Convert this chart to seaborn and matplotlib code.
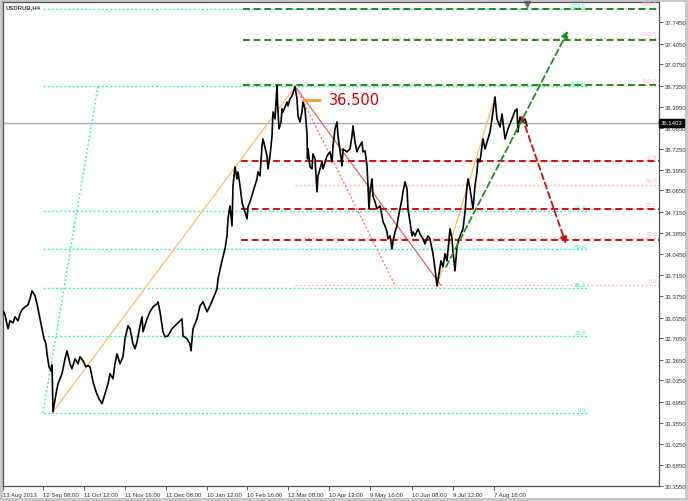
import numpy as np
import pandas as pd
import seaborn as sns
import matplotlib.pyplot as plt

# H4 USDRUB closes (bar position, price)
bar = [3, 5, 8, 10, 13, 15, 18, 20, 22, 25, 28, 30, 32, 35, 37, 40, 42, 44, 46, 47,
       49, 51, 52, 53, 56, 58, 62, 65, 67, 70, 72, 75, 78, 80, 83, 86, 88, 90, 93, 96,
       99, 102, 105, 108, 110, 113, 115, 117, 120, 123, 125, 128, 130, 133, 135, 137, 140, 142, 143, 147,
       150, 153, 157, 158, 160, 163, 165, 168, 172, 177, 180, 182, 183, 187, 190, 191, 193, 197, 200, 203,
       207, 210, 213, 217, 218, 222, 225, 227, 228, 230, 232, 233, 235, 237, 238, 240, 242, 243, 245, 247,
       248, 250, 253, 257, 258, 260, 262, 263, 267, 268, 270, 272, 273, 275, 277, 277.5, 279, 281, 282, 283,
       285, 287, 288, 290, 292, 295, 297, 298, 300, 302, 303, 305, 307, 307.5, 308, 310, 312, 313, 315, 317,
       318, 320, 322, 323, 327, 330, 332, 333, 335, 337, 338, 342, 343, 347, 350, 352, 353, 355, 357, 358,
       362, 363, 365, 367, 368, 369, 370, 372, 373, 375, 377, 380, 382, 383, 385, 387, 388, 390, 392, 393,
       395, 397, 398, 400, 402, 403, 405, 407, 408, 410, 412, 413, 415, 418, 420, 423, 425, 428, 430, 433,
       435, 437, 439, 441, 443, 445, 447, 449, 450, 452, 453, 455, 457, 460, 463, 465, 467, 468, 470, 472,
       473, 475, 477, 478, 480, 482, 483, 485, 487, 488, 490, 492, 495, 497, 500, 502, 505, 508, 510, 512,
       515, 517, 518, 520, 522, 525, 527]
close = [33.144, 33.08, 32.857, 32.984, 32.95, 33.048, 32.984, 33.096, 33.16, 33.207, 33.24, 33.335, 33.462, 33.383, 33.255, 33.016, 32.857, 32.697, 32.617, 32.458,
         32.251, 32.188, 32.28, 31.534, 31.821, 31.98, 32.14, 32.379, 32.506, 32.299, 32.219, 32.379, 32.299, 32.41, 32.347, 32.251, 32.27, 32.251, 32.012, 31.853,
         31.741, 31.662, 31.821, 31.98, 32.14, 32.06, 32.299, 32.458, 32.299, 32.41, 32.697, 32.904, 32.857, 32.617, 32.538, 32.649, 32.904, 33.048, 32.809, 33.016,
         33.128, 33.207, 33.255, 33.287, 33.128, 32.809, 32.729, 32.745, 32.857, 32.936, 32.984, 33.016, 32.745, 32.697, 32.617, 32.506, 32.857, 33.016, 33.223, 33.287,
         33.128, 33.223, 33.335, 33.494, 33.654, 33.94, 34.131, 34.339, 34.61, 34.817, 34.498, 35.136, 35.438, 35.247, 35.359, 35.136, 34.88, 34.817, 34.721, 34.61,
         34.8, 34.88, 35.04, 35.247, 35.359, 35.295, 35.773, 35.884, 35.614, 35.407, 35.614, 35.933, 36.315, 36.204, 36.73, 36.474, 36.044, 36.156, 36.363, 36.315,
         36.395, 36.474, 36.411, 36.522, 36.57, 36.714, 36.522, 36.251, 36.156, 36.315, 36.474, 36.363, 35.965, 35.566, 35.725, 35.438, 35.407, 35.646, 35.566, 35.04,
         35.295, 35.407, 35.518, 35.407, 35.614, 35.678, 35.518, 35.773, 36.044, 36.156, 35.933, 35.454, 35.725, 35.678, 35.725, 35.933, 36.092, 35.836, 35.678, 35.725,
         35.836, 35.678, 35.694, 35.454, 35.136, 34.769, 35.04, 35.247, 34.976, 34.88, 34.769, 34.817, 34.658, 34.562, 34.498, 34.402, 34.291, 34.339, 34.131, 34.243,
         34.402, 34.498, 34.61, 34.769, 34.929, 35.04, 35.199, 35.088, 34.769, 34.562, 34.339, 34.402, 34.339, 34.45, 34.371, 34.291, 34.211, 34.339, 34.291, 34.052,
         33.813, 33.542, 33.733, 33.94, 33.845, 34.052, 33.94, 34.291, 34.45, 34.291, 34.083, 33.781, 34.179, 34.339, 34.45, 34.721, 35.136, 35.247, 35.088, 34.88,
         34.769, 35.136, 35.359, 35.566, 35.518, 35.773, 35.884, 35.725, 35.836, 35.884, 35.996, 36.204, 36.554, 36.204, 36.076, 36.283, 35.884, 36.044, 36.124, 36.204,
         36.331, 36.363, 35.996, 36.235, 36.156, 36.204, 36.092]
last_price = 36.1403

# fibonacci retracements
cyan_lo, cyan_hi = 31.518, 36.73
cyan_levels = [0.0, 23.6, 38.2, 50.0, 61.8, 100.0, 123.6]
pink_lo, pink_hi = 33.55, 36.746
pink_levels = [0.0, 23.6, 38.2, 50.0, 61.8, 100.0, 123.6, 138.2]
green_lines = [36.74, 37.46, 37.96]
red_lines = [35.53, 34.77, 34.28]

y_ticks = [30.355, 30.685, 31.025, 31.355, 31.695, 32.035, 32.365, 32.705, 33.035, 33.375, 33.715, 34.045,
           34.385, 34.715, 35.065, 35.395, 35.725, 36.065, 36.395, 36.735, 37.075, 37.405, 37.745]
x_ticks = [3, 43, 84, 125, 166, 207, 247, 288, 329, 370, 412, 453, 494]
x_labels = ['13 Aug 2013', '12 Sep 08:00', '11 Oct 12:00', '11 Nov 16:00', '11 Dec 08:00', '10 Jan 12:00',
            '10 Feb 16:00', '12 Mar 08:00', '10 Apr 12:00', '9 May 16:00', '10 Jun 08:00', '9 Jul 12:00', '7 Aug 16:00']

sns.set_style('white')
plt.rcParams['font.family'] = ['Liberation Sans', 'DejaVu Sans']

fig = plt.figure(figsize=(6.88, 5.02), dpi=100)
fig.patch.set_facecolor('white')
fig.patch.set_edgecolor('#c8c8c8')
fig.patch.set_linewidth(3)
ax = fig.add_axes([3 / 688, 15 / 502, 656 / 688, 484 / 502])

CYAN = '#3ceec8'
PINK = '#ffb8c0'
GREEN = '#1a8f1a'
RED = '#cc1010'
ORANGE = '#ffb866'

# current price
ax.axhline(last_price, color='#a8aab8', lw=1, zorder=1)

# cyan fib
for lv in cyan_levels:
    p = cyan_lo + (cyan_hi - cyan_lo) * lv / 100
    ax.plot([43, 587], [p, p], color=CYAN, lw=1, ls=(0, (1.5, 1.5)), zorder=2)
    ax.text(586, p + 0.012, f'{lv:.1f}', color=CYAN, fontsize=4.3, ha='right', va='bottom')
ax.plot([43, 98], [cyan_lo, cyan_hi], color=CYAN, lw=1, ls=(0, (1.5, 1.5)), zorder=2)

# pink fib
for lv in pink_levels:
    p = pink_lo + (pink_hi - pink_lo) * lv / 100
    ax.plot([295, 659], [p, p], color=PINK, lw=1, ls=(0, (1.5, 1.5)), zorder=2)
    ax.text(657, p + 0.03, f'{lv:.1f}', color=PINK, fontsize=4.3, ha='right', va='bottom')
ax.plot([295, 395], [pink_hi, pink_lo], color='#ff7070', lw=1, ls=(0, (1.5, 1.5)), zorder=2)
ax.plot([296, 441], [36.70, 33.55], color='#e06060', lw=0.9, zorder=2)

# projection levels
for p in green_lines:
    ax.plot([243, 659], [p, p], color=GREEN, lw=1.4, ls=(0, (3.5, 2)), zorder=3)
for p in red_lines:
    ax.plot([241, 659], [p, p], color=RED, lw=1.4, ls=(0, (3.5, 2)), zorder=3)

# orange swings
ax.plot([53, 295], [31.534, 36.714], color=ORANGE, lw=0.9, zorder=2)
ax.plot([437, 495], [33.542, 36.554], color=ORANGE, lw=0.9, zorder=2)

# price
df = pd.DataFrame({'bar': bar, 'close': close})
sns.lineplot(data=df, x='bar', y='close', color='black', lw=1.2, ax=ax, sort=False,
             estimator=None, zorder=4)

# arrows
ax.annotate('', xy=(568, 37.607), xytext=(446, 33.845),
            arrowprops=dict(arrowstyle='-|>', color=GREEN, lw=1.3, ls=(0, (3.5, 2)),
                            mutation_scale=10, shrinkA=0, shrinkB=0), zorder=5)
ax.annotate('', xy=(566, 34.211), xytext=(522, 36.235),
            arrowprops=dict(arrowstyle='-|>', color=RED, lw=1.3, ls=(0, (3.5, 2)),
                            mutation_scale=10, shrinkA=0, shrinkB=0), zorder=5)

# 36.500 label
ax.plot([303, 320], [36.506, 36.506], color='#f5a020', lw=2, zorder=5)
ax.text(329, 36.506, '36.500', color='#cc0000', fontsize=10.5, ha='left', va='center',
        family='DejaVu Sans', zorder=5)

ax.text(6, 37.99, 'USDRUB,H4', color='#404040', fontsize=4.3, ha='left', va='center', fontweight='bold')
ax.plot(527, 38.035, marker='v', ms=4, color='#607080', clip_on=False)

ax.set_xlim(3, 659)
ax.set_ylim(30.35, 38.068)
ax.yaxis.tick_right()
ax.set_yticks(y_ticks, [f'{v:.4f}' for v in y_ticks])
ax.set_xticks(x_ticks, x_labels)
for lbl in ax.get_xticklabels():
    lbl.set_horizontalalignment('left')
ax.tick_params(axis='both', direction='out', length=3, width=0.6, color='#404040',
               labelsize=4.3, labelcolor='#303030', pad=1.5)
ax.tick_params(axis='y', right=True, left=False)
ax.tick_params(axis='x', bottom=True)
ax.set_xlabel('')
ax.set_ylabel('')
for side in ['left', 'right', 'bottom', 'top']:
    ax.spines[side].set_color('#505050')
    ax.spines[side].set_linewidth(0.9)

ax.annotate('36.1403', xy=(1.003, last_price), xycoords=('axes fraction', 'data'),
            fontsize=4.3, color='white', ha='left', va='center',
            bbox=dict(boxstyle='square,pad=0.25', fc='black', ec='black'), annotation_clip=False)

fig.savefig('out.png', dpi=100)
